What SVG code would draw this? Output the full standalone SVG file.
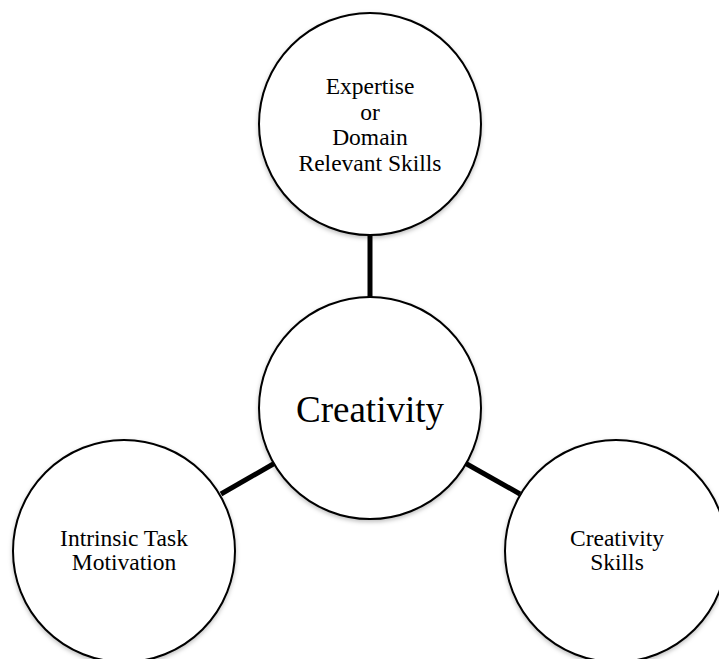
<svg xmlns="http://www.w3.org/2000/svg" width="719" height="659" viewBox="0 0 719 659">
<defs>
<filter id="sh" x="-10%" y="-10%" width="120%" height="125%">
<feDropShadow dx="0" dy="2" stdDeviation="2" flood-color="#000" flood-opacity="0.25"/>
</filter>
</defs>
<style>
.node circle{fill:#fff;stroke:#000;stroke-width:2;filter:url(#sh)}
.node text{font-family:"Liberation Serif","Times New Roman",serif;fill:#000;text-anchor:middle}
.t{font-size:23.5px}
.big{font-size:37px}
#connectors line{stroke:#000;stroke-width:5}
</style>
<rect width="719" height="659" fill="#fff"/>
<g id="connectors">
<line x1="370" y1="234" x2="370" y2="298"/>
<line x1="221" y1="494" x2="275" y2="463"/>
<line x1="465" y1="463" x2="520" y2="494"/>
</g>
<g id="node-expertise" class="node">
<circle cx="370" cy="124" r="111"/>
<text class="t" x="370" y="94">Expertise</text>
<text class="t" x="370" y="119.5">or</text>
<text class="t" x="370" y="145">Domain</text>
<text class="t" x="370" y="171">Relevant Skills</text>
</g>
<g id="node-creativity" class="node">
<circle cx="370" cy="408" r="111"/>
<text class="big" x="370" y="422">Creativity</text>
</g>
<g id="node-motivation" class="node">
<circle cx="124" cy="551" r="111"/>
<text class="t" x="124" y="546">Intrinsic Task</text>
<text class="t" x="124" y="570">Motivation</text>
</g>
<g id="node-skills" class="node">
<circle cx="616" cy="551" r="111"/>
<text class="t" x="617" y="546">Creativity</text>
<text class="t" x="617" y="570">Skills</text>
</g>
</svg>
